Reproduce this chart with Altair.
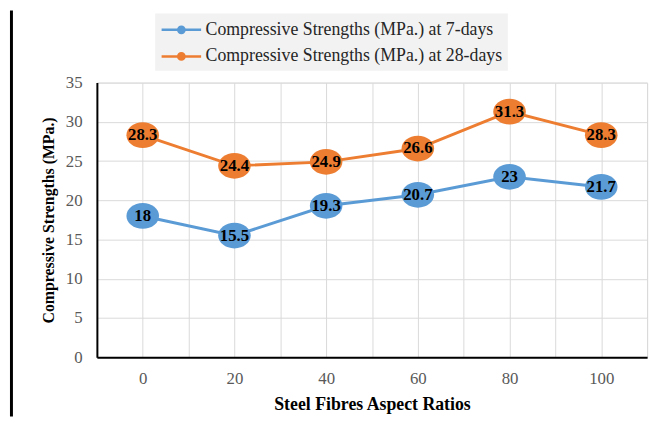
import altair as alt
import pandas as pd

# ---- data ----
aspect_ratios = [0, 20, 40, 60, 80, 100]
strength_7d = [18, 15.5, 19.3, 20.7, 23, 21.7]
strength_28d = [28.3, 24.4, 24.9, 26.6, 31.3, 28.3]
series_names = [
    "Compressive Strengths (MPa.) at 7-days",
    "Compressive Strengths (MPa.) at 28-days",
]
series_colors = ["#5B9BD5", "#ED7D31"]
y_ticks = [0, 5, 10, 15, 20, 25, 30, 35]
x_grid_values = [-10, 0, 10, 20, 30, 40, 50, 60, 70, 80, 90, 100, 110]
x_title = "Steel Fibres Aspect Ratios"
y_title = "Compressive Strengths (MPa.)"

rows = []
for name, vals in zip(series_names, [strength_7d, strength_28d]):
    for x, v in zip(aspect_ratios, vals):
        rows.append({"ratio": x, "strength": v, "series": name, "label": f"{v:g}"})
df = pd.DataFrame(rows)

FONT = "Liberation Serif"

legend_symbol = (
    "M-1,0L3,0"
    "M1.32,0A0.32,0.32,0,1,1,0.68,0A0.32,0.32,0,1,1,1.32,0"
    "M1.12,0A0.12,0.12,0,1,1,0.88,0A0.12,0.12,0,1,1,1.12,0"
)
ellipse = "M1,0A1,0.79,0,1,1,-1,0A1,0.79,0,1,1,1,0Z"

legend = alt.Legend(
    title=None,
    orient="none",
    legendX=59,
    legendY=-70,
    direction="vertical",
    symbolType=legend_symbol,
    symbolSize=400,
    symbolStrokeWidth=2.5,
    labelFont=FONT,
    labelFontSize=18,
    labelColor="#262626",
    labelOffset=23,
    labelLimit=500,
    rowPadding=6,
    padding=5,
    fillColor="#f2f2f2",
)

color = alt.Color(
    "series:N",
    scale=alt.Scale(domain=series_names, range=series_colors),
    sort=series_names,
    legend=legend,
)

x_axis = alt.Axis(
    values=x_grid_values,
    labelExpr="(datum.value >= 0 && datum.value <= 100 && datum.value % 20 == 0) ? datum.label : ''",
    labelOverlap=False,
    labelFlush=False,
    ticks=False,
    labelPadding=14,
    labelFont=FONT,
    labelFontSize=17,
    labelColor="#595959",
    title=x_title,
    titleFont=FONT,
    titleFontSize=18,
    titleFontWeight="bold",
    titleColor="black",
    titlePadding=9,
    domain=True,
    domainColor="black",
    domainWidth=2,
    gridColor="#d9d9d9",
    gridWidth=1,
)
y_axis = alt.Axis(
    values=y_ticks,
    tickCount=8,
    ticks=False,
    labelPadding=15,
    labelFlush=False,
    labelOverlap=False,
    labelFont=FONT,
    labelFontSize=17,
    labelColor="#595959",
    title=y_title,
    titleFont=FONT,
    titleFontSize=16,
    titleFontWeight="bold",
    titleColor="black",
    titlePadding=9,
    domain=True,
    domainColor="black",
    domainWidth=2,
    gridColor="#d9d9d9",
    gridWidth=1,
)

x_enc = alt.X("ratio:Q", scale=alt.Scale(domain=[-10, 110], nice=False, zero=False), axis=x_axis)
y_enc = alt.Y("strength:Q", scale=alt.Scale(domain=[0, 35], nice=False, zero=True), axis=y_axis)

base = alt.Chart(df).encode(x=x_enc, y=y_enc)

lines = base.mark_line(strokeWidth=3).encode(color=color, detail="series:N")
points = base.mark_point(shape=ellipse, filled=True, size=1089, opacity=1, strokeWidth=0).encode(
    color=color
)
labels = base.mark_text(
    font=FONT, fontSize=17, fontWeight="bold", color="black", align="center", baseline="middle"
).encode(text="label:N")

frame = alt.Chart(pd.DataFrame({"k": [0]})).mark_rule(color="black", strokeWidth=3).encode(
    x=alt.value(-86.5), y=alt.value(-73), y2=alt.value(338)
)

chart = (
    alt.layer(lines, points, labels, frame)
    .properties(
        width=557,
        height=278,
        autosize=alt.AutoSizeParams(type="none"),
        padding={"left": 90, "top": 73, "right": 7, "bottom": 60},
    )
    .configure_view(stroke="black", strokeWidth=1)
    .configure_axis(labelOverlap=False)
    .configure(background="white")
)

chart.save("out.html", embed_options={"renderer": "svg", "actions": False})
